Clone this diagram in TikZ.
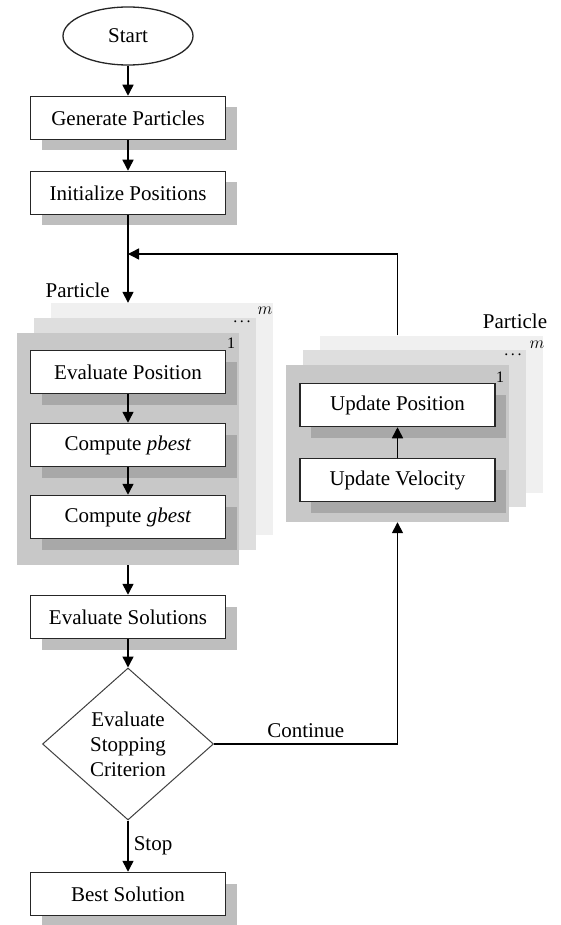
\documentclass[tikz,border=0pt]{standalone}
\usepackage{fontspec}
\setmainfont{Liberation Serif}
\usetikzlibrary{shapes.geometric, arrows.meta, shadows, positioning}
\definecolor{shadowout}{RGB}{190, 190, 190}
\definecolor{shadowin}{RGB}{168, 168, 168}
\definecolor{panelone}{RGB}{200, 200, 200}
\definecolor{paneltwo}{RGB}{222, 222, 222}
\definecolor{panelthree}{RGB}{240, 240, 240}

\tikzset{
    stepbox/.style={rectangle, draw=black!85, line width=1.5pt, fill=white,
        minimum width=195pt, minimum height=43pt, inner sep=0pt,
        drop shadow={shadow xshift=11pt, shadow yshift=-11pt, fill=#1, opacity=1}},
    stepbox/.default=shadowout,
    panel/.style={rectangle, fill=#1, inner sep=0pt},
    arr/.style={line width=1.5pt, -{Triangle[length=11pt, width=11pt]}},
    lbl/.style={inner sep=2pt},
    tag/.style={inner sep=0pt, font=\fontsize{16}{16}\selectfont}
}

\begin{document}
\begin{tikzpicture}[x=1pt, y=-1pt, font=\fontsize{21}{25}\selectfont]
        \useasboundingbox[fill=white] (0, 0) rectangle (560, 925);

        % main column
        \node[ellipse, draw=black!85, line width=1.3pt, minimum width=130pt, minimum height=58pt, inner sep=0pt] (start) at (128, 36) {Start};
        \node[stepbox] (gen) at (128, 118) {Generate Particles};
        \node[stepbox] (init) at (128, 193) {Initialize Positions};

        % particle stack, left
        \node[panel=panelthree, minimum width=222pt, minimum height=232pt] (lback) at (162, 419) {};
        \node[panel=paneltwo, minimum width=222pt, minimum height=232pt] (lmid) at (145, 434) {};
        \node[panel=panelone, minimum width=222pt, minimum height=232pt] (lfront) at (128, 449) {};
        \node[tag] (lm) at (265, 311) {$m$};
        \node[tag] (ldots) at (242, 322) {.\,.\,.};
        \node[tag] (lone) at (231, 343) {1};
        \node[lbl, anchor=east] (lpart) at (112, 290) {Particle};

        \node[stepbox=shadowin] (evpos) at (128, 372) {Evaluate Position};
        \node[stepbox=shadowin] (cpbest) at (128, 445) {Compute \textit{pbest}};
        \node[stepbox=shadowin] (cgbest) at (128, 517) {Compute \textit{gbest}};

        \node[stepbox] (evsol) at (128, 617) {Evaluate Solutions};
        \node[diamond, draw=black!75, line width=1pt, fill=white, aspect=1.125, minimum width=171pt, minimum height=152pt, inner sep=0pt, align=center] (crit) at (128, 744) {Evaluate\\Stopping\\Criterion};
        \node[stepbox] (best) at (128, 894) {Best Solution};

        % particle stack, right
        \node[panel=panelthree, minimum width=223pt, minimum height=157pt] (rback) at (431, 414) {};
        \node[panel=paneltwo, minimum width=223pt, minimum height=157pt] (rmid) at (414, 428) {};
        \node[panel=panelone, minimum width=223pt, minimum height=157pt] (rfront) at (397.5, 443.5) {};
        \node[tag] (rm) at (537, 345) {$m$};
        \node[tag] (rdots) at (513, 355) {.\,.\,.};
        \node[tag] (rone) at (500, 377) {1};
        \node[lbl] (rpart) at (515, 321) {Particle};

        \node[stepbox=shadowin] (upos) at (397.5, 405) {Update Position};
        \node[stepbox=shadowin] (uvel) at (397.5, 480) {Update Velocity};

        \coordinate (loopjoin) at (128, 254);

        % connectors
        \draw[arr] (start) -- (gen);
        \draw[arr] (gen) -- (init);
        \draw[arr] (init) -- (init.south |- lback.north);
        \draw[arr] (evpos) -- (cpbest);
        \draw[arr] (cpbest) -- (cgbest);
        \draw[arr] (lfront) -- (evsol);
        \draw[arr] (evsol) -- (crit);
        \draw[arr] (crit) -- node[lbl, right=3pt] (stoplbl) {Stop} (best);
        \draw[arr] (crit.east) -| node[lbl, pos=0.25, above=4pt] (contlbl) {Continue} (rfront.south);
        \draw[arr] (uvel) -- (upos);
        \draw[arr] (rfront.north |- rback.north) |- (loopjoin);
    \end{tikzpicture}
\end{document}
